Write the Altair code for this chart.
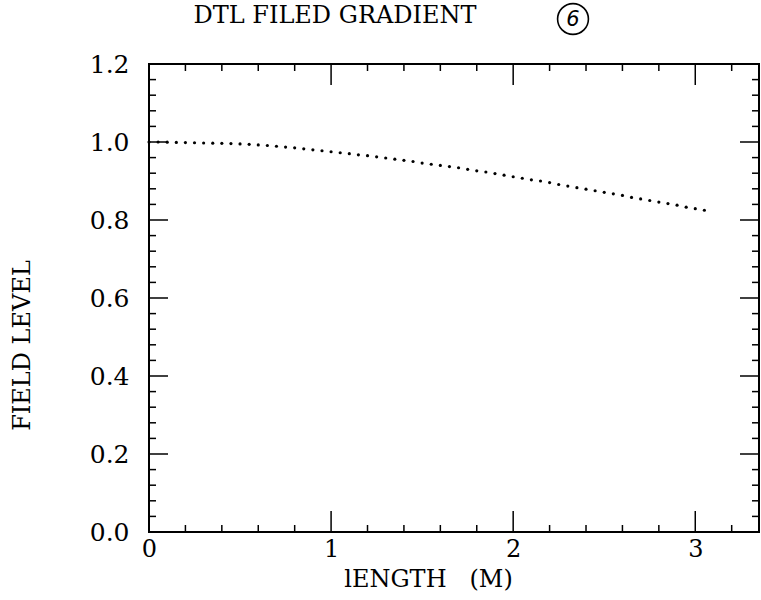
import altair as alt
import pandas as pd

# ---- data ----
length_m = [0.00, 0.05, 0.10, 0.15, 0.20, 0.25, 0.30, 0.35, 0.40, 0.45,
            0.50, 0.55, 0.60, 0.65, 0.70, 0.75, 0.80, 0.85, 0.90, 0.95,
            1.00, 1.05, 1.10, 1.15, 1.20, 1.25, 1.30, 1.35, 1.40, 1.45,
            1.50, 1.55, 1.60, 1.65, 1.70, 1.75, 1.80, 1.85, 1.90, 1.95,
            2.00, 2.05, 2.10, 2.15, 2.20, 2.25, 2.30, 2.35, 2.40, 2.45,
            2.50, 2.55, 2.60, 2.65, 2.70, 2.75, 2.80, 2.85, 2.90, 2.95,
            3.00, 3.05]
field_level = [1.000, 1.000, 0.9995, 0.999, 0.9985, 0.998, 0.9975, 0.997, 0.9965, 0.996,
               0.995, 0.994, 0.9925, 0.991, 0.989, 0.987, 0.985, 0.9825, 0.980, 0.9775,
               0.975, 0.9725, 0.970, 0.967, 0.965, 0.962, 0.959, 0.956, 0.953, 0.950,
               0.946, 0.943, 0.940, 0.937, 0.934, 0.930, 0.926, 0.923, 0.919, 0.915,
               0.911, 0.907, 0.903, 0.900, 0.896, 0.891, 0.887, 0.883, 0.879, 0.875,
               0.871, 0.867, 0.863, 0.858, 0.854, 0.850, 0.846, 0.842, 0.838, 0.833,
               0.829, 0.825]

x_labels = [0, 1, 2, 3]
y_labels = [0.0, 0.2, 0.4, 0.6, 0.8, 1.0, 1.2]
x_major_ticks = [1, 2, 3]
x_minor_ticks = [0.2, 0.4, 0.6, 0.8, 1.2, 1.4, 1.6, 1.8, 2.2, 2.4, 2.6, 2.8, 3.2]
y_major_ticks = [0.2, 0.4, 0.6, 0.8, 1.0]
y_minor_ticks = [round(0.04 * i, 2) for i in range(1, 30) if i % 5 != 0]

title_text = "DTL FILED GRADIENT"
x_title = "lENGTH\u00a0\u00a0\u00a0(M)"
y_title = "FIELD LEVEL"
page_mark = "6"

W, H = 610, 468
FONT = "DejaVu Serif"

xscale = alt.Scale(domain=[0, 3.35], nice=False, zero=False)
yscale = alt.Scale(domain=[0, 1.2], nice=False, zero=False)

df = pd.DataFrame({"x": length_m, "y": field_level})

dots = alt.Chart(df).mark_point(filled=True, color="black", size=10, opacity=1).encode(
    x=alt.X("x:Q", scale=xscale,
            axis=alt.Axis(values=x_labels, ticks=False, domain=False, grid=False,
                          labelFont=FONT, labelFontSize=24, labelColor="black",
                          labelPadding=5, format="d", labelFlush=False,
                          title=x_title, titleFont=FONT, titleFontSize=24,
                          titleFontWeight="normal", titleColor="black",
                          titleX=279, titleY=47, titleBaseline="middle")),
    y=alt.Y("y:Q", scale=yscale,
            axis=alt.Axis(values=y_labels, ticks=False, domain=False, grid=False,
                          labelFont=FONT, labelFontSize=25, labelColor="black",
                          labelPadding=20, format=".1f", labelFlush=False,
                          title=y_title, titleFont=FONT, titleFontSize=24,
                          titleFontWeight="normal", titleColor="black",
                          titleAngle=270, titleX=-127, titleY=281,
                          titleBaseline="middle", titleAlign="center")),
)

def xticks(vals, y0, y1):
    return alt.Chart(pd.DataFrame({"x": vals})).mark_rule(color="black", strokeWidth=1.5).encode(
        x=alt.X("x:Q", scale=xscale), y=alt.value(y0), y2=alt.value(y1))

def yticks(vals, x0, x1):
    return alt.Chart(pd.DataFrame({"y": vals})).mark_rule(color="black", strokeWidth=1.5).encode(
        y=alt.Y("y:Q", scale=yscale), x=alt.value(x0), x2=alt.value(x1))

MAJ, MIN = 21, 7
tick_layers = [
    xticks(x_major_ticks, H, H - MAJ), xticks(x_minor_ticks, H, H - MIN),
    xticks(x_major_ticks, 0, MAJ), xticks(x_minor_ticks, 0, MIN),
    yticks(y_major_ticks, 0, 19), yticks(y_minor_ticks, 0, MIN),
    yticks(y_major_ticks, W, W - 19), yticks(y_minor_ticks, W, W - MIN),
]

title = alt.Chart(pd.DataFrame({"t": [title_text]})).mark_text(
    font=FONT, fontSize=24, color="black", align="center", baseline="middle"
).encode(text="t:N", x=alt.value(186), y=alt.value(-48))

circle6 = alt.Chart(pd.DataFrame({"t": [page_mark]})).mark_point(
    shape="circle", size=950, color="black", strokeWidth=1.6, filled=False, opacity=1
).encode(x=alt.value(424), y=alt.value(-45))

text6 = alt.Chart(pd.DataFrame({"t": [page_mark]})).mark_text(
    font="DejaVu Sans", fontSize=21, fontStyle="italic", color="black",
    align="center", baseline="middle"
).encode(text="t:N", x=alt.value(424), y=alt.value(-44))

chart = alt.layer(*tick_layers, dots, title, circle6, text6).properties(
    width=W, height=H,
    autosize=alt.AutoSizeParams(type="none"),
    padding={"left": 149, "top": 64, "right": 2, "bottom": 68},
    background="white",
).configure_view(stroke="black", strokeWidth=2)

chart.save("out.html", embed_options={"renderer": "svg", "actions": False})
